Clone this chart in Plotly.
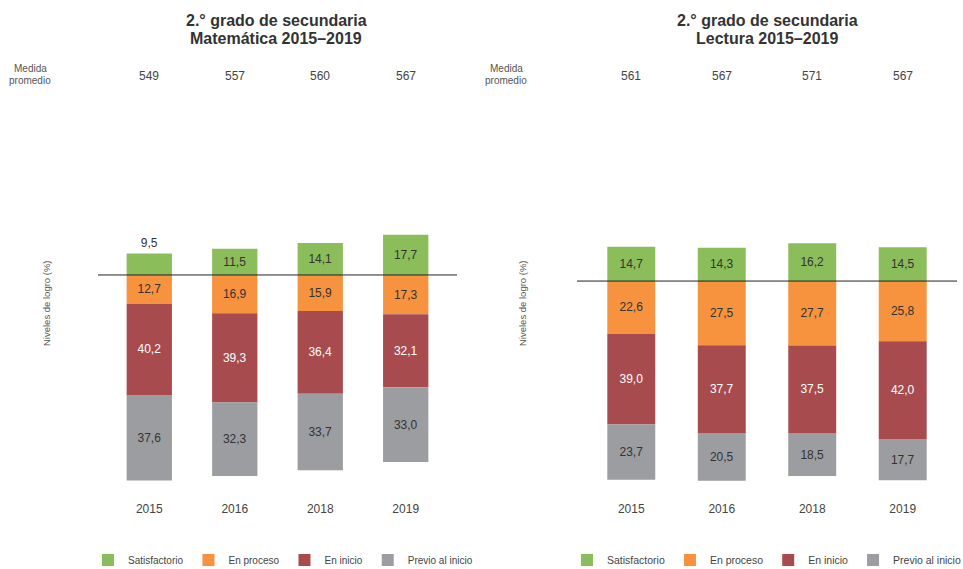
import plotly.graph_objects as go

years = ["2015", "2016", "2018", "2019"]
levels = ["Satisfactorio", "En proceso", "En inicio", "Previo al inicio"]
colors = ["#8BBD5A", "#F7923F", "#A84B4F", "#9B9DA1"]
text_colors = ["#333333", "#333333", "#FFFFFF", "#333333"]

mat_satisfactorio = [9.5, 11.5, 14.1, 17.7]
mat_en_proceso = [12.7, 16.9, 15.9, 17.3]
mat_en_inicio = [40.2, 39.3, 36.4, 32.1]
mat_previo = [37.6, 32.3, 33.7, 33.0]
mat_medida = [549, 557, 560, 567]

lec_satisfactorio = [14.7, 14.3, 16.2, 14.5]
lec_en_proceso = [22.6, 27.5, 27.7, 25.8]
lec_en_inicio = [39.0, 37.7, 37.5, 42.0]
lec_previo = [23.7, 20.5, 18.5, 17.7]
lec_medida = [561, 567, 571, 567]

W, H = 963, 569
FONT = "Liberation Sans, Arial, sans-serif"


def fmt(v):
    return f"{v:.1f}".replace(".", ",")


def py(p):
    return (H - p) / H


fig = go.Figure()

panels = [
    ("x", "y", "legend", [mat_satisfactorio, mat_en_proceso, mat_en_inicio, mat_previo]),
    ("x2", "y2", "legend2", [lec_satisfactorio, lec_en_proceso, lec_en_inicio, lec_previo]),
]

for xa, ya, lg, series in panels:
    for i, (name, vals) in enumerate(zip(levels, series)):
        sign = 1 if i == 0 else -1
        if i == 0 and xa == "x":
            tpos = ["outside" if v < 10 else "inside" for v in vals]
        else:
            tpos = "inside"
        fig.add_trace(go.Bar(
            x=years, y=[sign * v for v in vals], name=name,
            marker=dict(color=colors[i], line=dict(width=0)),
            text=[fmt(v) for v in vals], textposition=tpos,
            insidetextanchor="middle",
            insidetextfont=dict(color=text_colors[i], size=12, family=FONT),
            outsidetextfont=dict(color="#333333", size=12, family=FONT),
            textangle=0, cliponaxis=False, hoverinfo="skip",
            xaxis=xa, yaxis=ya, legend=lg, width=0.53,
        ))

fig.update_layout(
    width=W, height=H, barmode="relative",
    margin=dict(l=0, r=0, t=0, b=0, autoexpand=False),
    paper_bgcolor="white", plot_bgcolor="white",
    font=dict(family=FONT, color="#444444"),
    uniformtext=dict(mode="show", minsize=12),
    xaxis=dict(domain=[98 / W, 457 / W], type="category", range=[-0.6, 3.6],
               showgrid=False, zeroline=False, showline=False, ticks="",
               ticklabelstandoff=5,
               tickfont=dict(size=12, color="#444444"), anchor="y"),
    yaxis=dict(domain=[py(495), 1], range=[-96.9, 121.1], visible=False, anchor="x"),
    xaxis2=dict(domain=[577 / W, 957 / W], type="category", range=[-0.6, 3.6],
                showgrid=False, zeroline=False, showline=False, ticks="",
                ticklabelstandoff=5,
                tickfont=dict(size=12, color="#444444"), anchor="y2"),
    yaxis2=dict(domain=[py(495), 1], range=[-91.8, 120.6], visible=False, anchor="x2"),
    legend=dict(orientation="h", x=88 / W, xanchor="left", y=py(560), yanchor="middle",
                font=dict(size=10, color="#444444"), bgcolor="rgba(0,0,0,0)",
                traceorder="normal", itemclick=False),
    legend2=dict(orientation="h", x=567 / W, xanchor="left", y=py(560), yanchor="middle",
                 font=dict(size=10.5, color="#444444"), bgcolor="rgba(0,0,0,0)",
                 traceorder="normal", itemclick=False),
    shapes=[
        dict(type="line", xref="x domain", yref="y", x0=0, x1=1, y0=0, y1=0,
             line=dict(color="#222222", width=1)),
        dict(type="line", xref="x2 domain", yref="y2", x0=0, x1=1, y0=0, y1=0,
             line=dict(color="#222222", width=1)),
    ],
)

annotations = [
    dict(text="<b>2.° grado de secundaria</b>", x=276 / W, y=py(21), font=dict(size=16, color="#333333")),
    dict(text="<b>Matemática 2015–2019</b>", x=276 / W, y=py(39), font=dict(size=16, color="#333333")),
    dict(text="<b>2.° grado de secundaria</b>", x=767 / W, y=py(21), font=dict(size=16, color="#333333")),
    dict(text="<b>Lectura 2015–2019</b>", x=767 / W, y=py(39), font=dict(size=16, color="#333333")),
    dict(text="Medida", x=30 / W, y=py(68), font=dict(size=10, color="#555555")),
    dict(text="promedio", x=30 / W, y=py(81), font=dict(size=10, color="#555555")),
    dict(text="Medida", x=506 / W, y=py(68), font=dict(size=10, color="#555555")),
    dict(text="promedio", x=506 / W, y=py(81), font=dict(size=10, color="#555555")),
    dict(text="Niveles de logro (%)", x=46 / W, y=py(303), textangle=-90,
         font=dict(size=9.5, color="#555555")),
    dict(text="Niveles de logro (%)", x=522 / W, y=py(303), textangle=-90,
         font=dict(size=9.5, color="#555555")),
]
for a in annotations:
    a.update(xref="paper", yref="paper", showarrow=False, xanchor="center", yanchor="middle")

for xa, med in (("x", mat_medida), ("x2", lec_medida)):
    for k, m in enumerate(med):
        annotations.append(dict(text=str(m), x=k, xref=xa, y=py(76), yref="paper",
                                showarrow=False, xanchor="center", yanchor="middle",
                                font=dict(size=12, color="#444444")))

fig.update_layout(annotations=annotations)
fig.write_html("out.html", config={"displayModeBar": False},
               post_script="document.body.style.margin='0';")
